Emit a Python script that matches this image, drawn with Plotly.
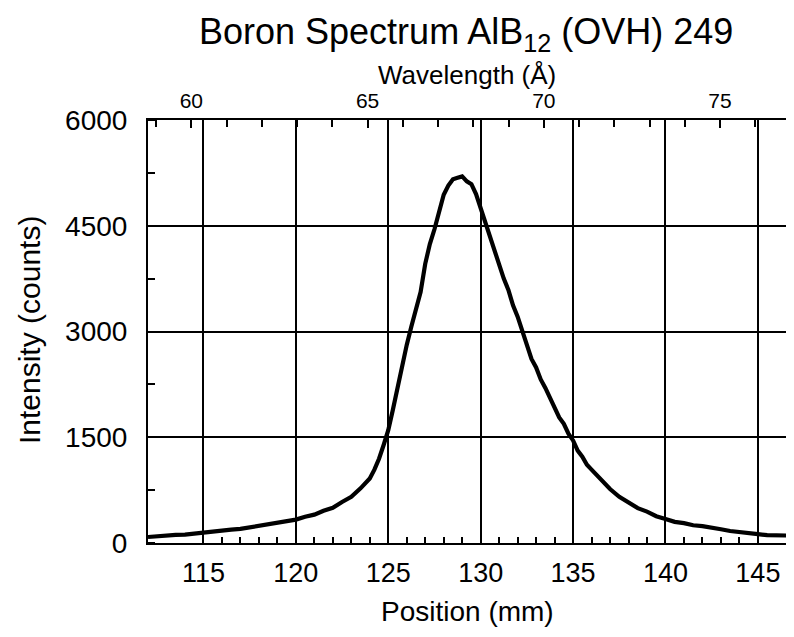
import plotly.graph_objects as go

# ---- data ----
position_mm = [
    112.0, 112.5, 113.0, 113.5, 114.0, 114.5, 115.0, 115.5, 116.0, 116.5,
    117.0, 117.5, 118.0, 118.5, 119.0, 119.5, 120.0, 120.5, 121.0, 121.5,
    122.0, 122.5, 123.0, 123.5, 124.0, 124.25, 124.5, 124.75, 125.0, 125.25,
    125.5, 125.75, 126.0, 126.25, 126.5, 126.75, 127.0, 127.25, 127.5, 127.75,
    128.0, 128.25, 128.5, 128.75, 129.0, 129.25, 129.5, 129.75, 130.0, 130.25,
    130.5, 130.75, 131.0, 131.25, 131.5, 131.75, 132.0, 132.25, 132.5, 132.75,
    133.0, 133.25, 133.5, 133.75, 134.0, 134.25, 134.5, 134.75, 135.0, 135.25,
    135.5, 135.75, 136.0, 136.5, 137.0, 137.5, 138.0, 138.5, 139.0, 139.5,
    140.0, 140.5, 141.0, 141.5, 142.0, 142.5, 143.0, 143.5, 144.0, 144.5,
    145.0, 145.5, 146.0, 146.5, 146.9,
]
intensity_counts = [
    85, 98, 100, 114, 120, 136, 146, 163, 170, 190,
    200, 222, 236, 262, 278, 310, 332, 372, 402, 458,
    500, 582, 655, 775, 915, 1040, 1195, 1390, 1600, 1890,
    2210, 2490, 2810, 3070, 3330, 3560, 3960, 4240, 4450, 4690,
    4940, 5070, 5160, 5180, 5200, 5130, 5090, 4950, 4750, 4530,
    4350, 4130, 3960, 3750, 3590, 3370, 3210, 3020, 2840, 2610,
    2490, 2320, 2200, 2050, 1930, 1780, 1690, 1550, 1455, 1310,
    1225, 1110, 1040, 895, 765, 655, 578, 495, 445, 380,
    342, 300, 282, 252, 240, 210, 195, 170, 160, 136,
    126, 112, 112, 102, 104,
]
x_ticks = [115, 120, 125, 130, 135, 140, 145]
y_ticks = [0, 1500, 3000, 4500, 6000]
wl_ticks = [60, 65, 70, 75]

FONT = "Liberation Sans, Arial, Helvetica, sans-serif"

fig = go.Figure()
fig.add_trace(go.Scatter(
    x=position_mm, y=intensity_counts, mode="lines",
    line=dict(color="black", width=4.2), showlegend=False, hoverinfo="skip",
))
# invisible trace carrying the top (wavelength) axis
fig.add_trace(go.Scatter(
    x=[wl_ticks[0]], y=[y_ticks[0]], xaxis="x2", yaxis="y", mode="markers",
    marker=dict(opacity=0), showlegend=False, hoverinfo="skip",
))

minor_x = [v for v in range(x_ticks[0] + 1, x_ticks[-1]) if v % 5 != 0]

# page body adds an 8px offset, so the figure is 8px smaller than the window
fig.update_layout(
    width=786, height=629,
    margin=dict(l=140, r=1, t=112, b=94, autoexpand=False),
    paper_bgcolor="white", plot_bgcolor="white",
    font=dict(family=FONT, color="black"),
    xaxis=dict(
        range=[112, 146.9], tickmode="array", tickvals=x_ticks,
        ticktext=[str(v) for v in x_ticks], automargin=False,
        ticks="", showgrid=True, gridcolor="black", gridwidth=1.6,
        showline=True, linecolor="black", linewidth=2, mirror=True,
        zeroline=False, tickfont=dict(size=27, family=FONT),
        ticklabelstandoff=5,
        minor=dict(tickmode="array", tickvals=minor_x, ticks="inside",
                   ticklen=6, tickwidth=1.5, tickcolor="black", showgrid=False),
    ),
    xaxis2=dict(
        overlaying="x", side="top", anchor="y", automargin=False,
        range=[58.77, 77.07], tickmode="array", tickvals=wl_ticks,
        ticktext=[str(v) for v in wl_ticks],
        ticks="inside", ticklen=8, tickwidth=1.5, tickcolor="black",
        showgrid=False, showline=True, linecolor="black", linewidth=2,
        zeroline=False, tickfont=dict(size=21, family=FONT),
        ticklabelstandoff=2,
        minor=dict(dtick=1, tick0=0, ticks="inside", ticklen=7,
                   tickwidth=1.5, tickcolor="black", showgrid=False),
    ),
    yaxis=dict(
        range=[0, 6000], tickmode="array", tickvals=y_ticks,
        ticktext=[str(v) for v in y_ticks], automargin=False,
        ticks="", showgrid=True, gridcolor="black", gridwidth=1.6,
        showline=True, linecolor="black", linewidth=2, mirror=True,
        zeroline=False, tickfont=dict(size=28, family=FONT),
        ticklabelstandoff=13,
        minor=dict(dtick=750, tick0=0, ticks="inside", ticklen=7,
                   tickwidth=1.5, tickcolor="black", showgrid=False),
    ),
    annotations=[
        dict(text="Boron Spectrum AlB<sub>12</sub> (OVH) 249",
             xref="paper", yref="paper", x=0.493, y=1.203,
             xanchor="center", yanchor="middle", showarrow=False,
             font=dict(size=36, family=FONT, color="black")),
        dict(text="Wavelength (Å)",
             xref="paper", yref="paper", x=0.4946, y=1.107,
             xanchor="center", yanchor="middle", showarrow=False,
             font=dict(size=26, family=FONT, color="black")),
        dict(text="Position (mm)",
             xref="paper", yref="paper", x=0.496, y=-0.163,
             xanchor="center", yanchor="middle", showarrow=False,
             font=dict(size=28, family=FONT, color="black")),
        dict(text="Intensity (counts)",
             xref="paper", yref="paper", x=-0.1845, y=0.5035,
             xanchor="center", yanchor="middle", showarrow=False,
             textangle=-90,
             font=dict(size=30, family=FONT, color="black")),
    ],
)

fig.write_html("out.html", config={"displayModeBar": False})
